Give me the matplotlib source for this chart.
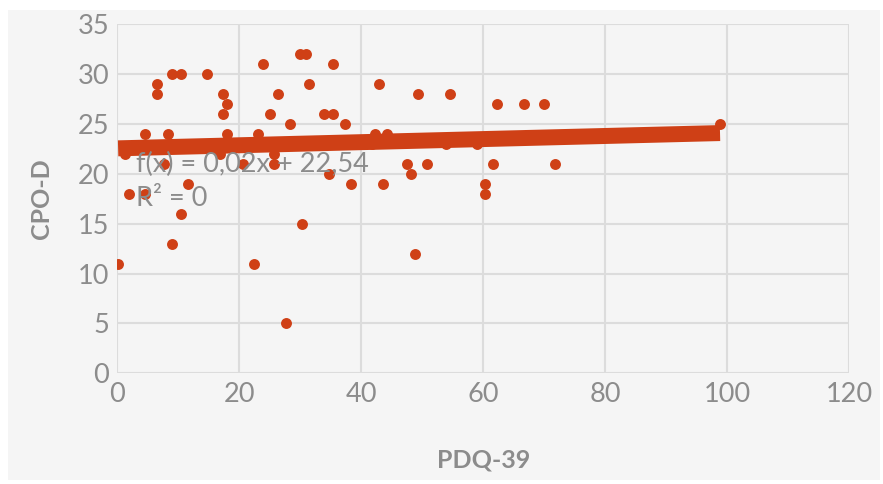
import matplotlib
matplotlib.use("Agg")
import matplotlib.pyplot as plt
from matplotlib.patches import Rectangle
import numpy as np

pdq39 = [0.1, 1.2, 1.9, 4.5, 4.5, 6.5, 6.5, 7.7, 8.3, 9.0, 9.0, 10.4, 10.4, 11.6,
         14.7, 16.8, 17.3, 17.3, 18.0, 18.0, 20.6, 22.4, 23.1, 23.8, 25.0, 25.7,
         25.7, 26.4, 27.6, 28.3, 29.9, 30.2, 30.9, 31.4, 33.9, 34.6, 35.4, 35.4,
         37.3, 38.3, 41.7, 42.3, 42.9, 43.6, 44.2, 47.5, 48.1, 48.8, 49.3, 50.7,
         53.9, 54.5, 59.0, 60.2, 60.2, 61.5, 62.3, 66.7, 69.9, 71.8, 98.8]
cpod = [11, 22, 18, 24, 18, 29, 28, 21, 24, 30, 13, 30, 16, 19,
        30, 22, 28, 26, 27, 24, 21, 11, 24, 31, 26, 22,
        21, 28, 5, 25, 32, 15, 32, 29, 26, 20, 26, 31,
        25, 19, 23, 24, 29, 19, 24, 21, 20, 12, 28, 21,
        23, 28, 23, 19, 18, 21, 27, 27, 27, 21, 25]

trend_slope = 0.0155
trend_intercept = 22.54
eq_text = "f(x) = 0,02x + 22,54"
r2_text = "R² = 0"

x_ticks = [0, 20, 40, 60, 80, 100, 120]
y_ticks = [0, 5, 10, 15, 20, 25, 30, 35]

orange = "#CF4016"
gray_txt = "#8C8C8C"
grid_c = "#DCDCDC"

plt.rcParams['font.family'] = ['Lato', 'DejaVu Sans']

fig = plt.figure(figsize=(8.83, 4.84), dpi=100)
fig.patch.set_facecolor("white")
fig.add_artist(Rectangle((8/883, 4/484), 872/883, 470/484, transform=fig.transFigure,
                         facecolor="#F5F5F5", edgecolor="none", zorder=-10))

ax = fig.add_axes([117.5/883, 1-373.3/484, (849.3-117.5)/883, (373.3-24)/484])
ax.set_facecolor("none")
ax.set_xlim(0, 120)
ax.set_ylim(0, 35)
ax.set_xticks(x_ticks)
ax.set_yticks(y_ticks)
ax.grid(True, color=grid_c, linewidth=1.5, zorder=0)
for s in ax.spines.values():
    s.set_visible(False)
ax.tick_params(length=0, labelsize=19.5, colors=gray_txt, pad=6)
ax.set_axisbelow(True)

ax.scatter(pdq39, cpod, s=62, color=orange, zorder=3, linewidths=0)

xs = np.array([min(pdq39), max(pdq39)])
ax.plot(xs, trend_slope*xs + trend_intercept, color=orange, linewidth=11.5,
        solid_capstyle="butt", zorder=4)

ax.text(3.1, 20.9, eq_text, fontsize=19.5, color=gray_txt, zorder=5, va="center")
ax.text(3.1, 17.5, r2_text, fontsize=19.5, color=gray_txt, zorder=5, va="center")

ax.set_xlabel("PDQ-39", fontsize=18, fontweight="bold", color=gray_txt, labelpad=30)
ax.set_ylabel("CPO-D", fontsize=18, fontweight="bold", color=gray_txt, labelpad=18)

fig.savefig("out.png", dpi=100, facecolor=fig.get_facecolor())
